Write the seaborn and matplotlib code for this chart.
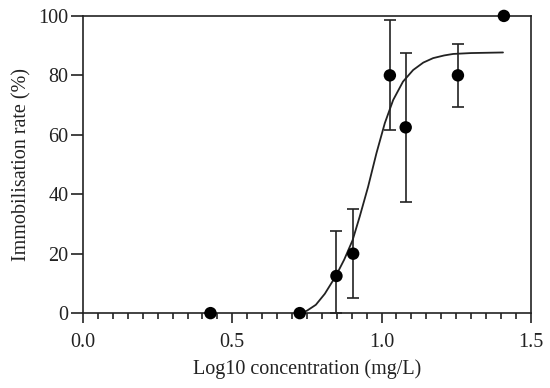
import numpy as np
import pandas as pd
import matplotlib
matplotlib.use('Agg')
import matplotlib.pyplot as plt
from matplotlib.ticker import MultipleLocator, FormatStrFormatter
import seaborn as sns

log_conc = [0.427, 0.726, 0.849, 0.905, 1.028, 1.081, 1.256, 1.410]
immob = [0, 0, 12.5, 20, 80, 62.5, 80, 100]
err_low = [0, 0, 12.5, 15, 18.5, 25, 10.7, 0]
err_high = [0, 0, 15, 15, 18.5, 25, 10.6, 0]

# fitted curve, points
curve_x = [0.726, 0.75, 0.78, 0.81, 0.847, 0.875, 0.903, 0.927, 0.955, 0.983,
           1.011, 1.039, 1.072, 1.106, 1.14, 1.173, 1.21, 1.24, 1.30, 1.407]
curve_y = [0, 0.8, 2.8, 6.5, 12.5, 18, 24.5, 32.5, 42.5, 53.8,
           63.9, 71.7, 77.9, 81.8, 84.3, 85.8, 86.7, 87.2, 87.5, 87.7]

sns.set_style('ticks')
plt.rcParams['font.family'] = ['Liberation Serif', 'DejaVu Serif']
plt.rcParams['font.size'] = 14.5
plt.rcParams['text.color'] = '#222222'
plt.rcParams['axes.labelcolor'] = '#222222'
plt.rcParams['xtick.color'] = '#222222'
plt.rcParams['ytick.color'] = '#222222'

df = pd.DataFrame({'x': log_conc, 'y': immob})
curve = pd.DataFrame({'x': curve_x, 'y': curve_y})

fig = plt.figure(figsize=(5.5, 3.88), dpi=100)
ax = fig.add_axes([0.151, 0.193, 0.814, 0.766])

sns.lineplot(data=curve, x='x', y='y', ax=ax, color='#222222', linewidth=1.3)
ax.errorbar(log_conc, immob, yerr=[err_low, err_high], fmt='none',
            ecolor='#222222', elinewidth=1.2, capsize=4, capthick=1.2)
sns.scatterplot(data=df, x='x', y='y', ax=ax, color='black', s=80,
                edgecolor='none', zorder=5, clip_on=False)

ax.set_xlim(0, 1.5)
ax.set_ylim(0, 100)
ax.xaxis.set_major_locator(MultipleLocator(0.5))
ax.xaxis.set_minor_locator(MultipleLocator(0.05))
ax.yaxis.set_major_locator(MultipleLocator(20))
ax.xaxis.set_major_formatter(FormatStrFormatter('%.1f'))
ax.tick_params(axis='x', which='major', length=7.5, width=1.2, direction='out', pad=7)
ax.tick_params(axis='x', which='minor', length=4.3, width=1.2)
ax.tick_params(axis='y', which='major', length=8.5, width=1.2, direction='out', pad=2)
for s in ax.spines.values():
    s.set_linewidth(1.2)
    s.set_color('#222222')

ax.set_xlabel('Log10 concentration (mg/L)', labelpad=5)
ax.set_ylabel('Immobilisation rate (%)', labelpad=5)

fig.savefig('out.png', dpi=100)
